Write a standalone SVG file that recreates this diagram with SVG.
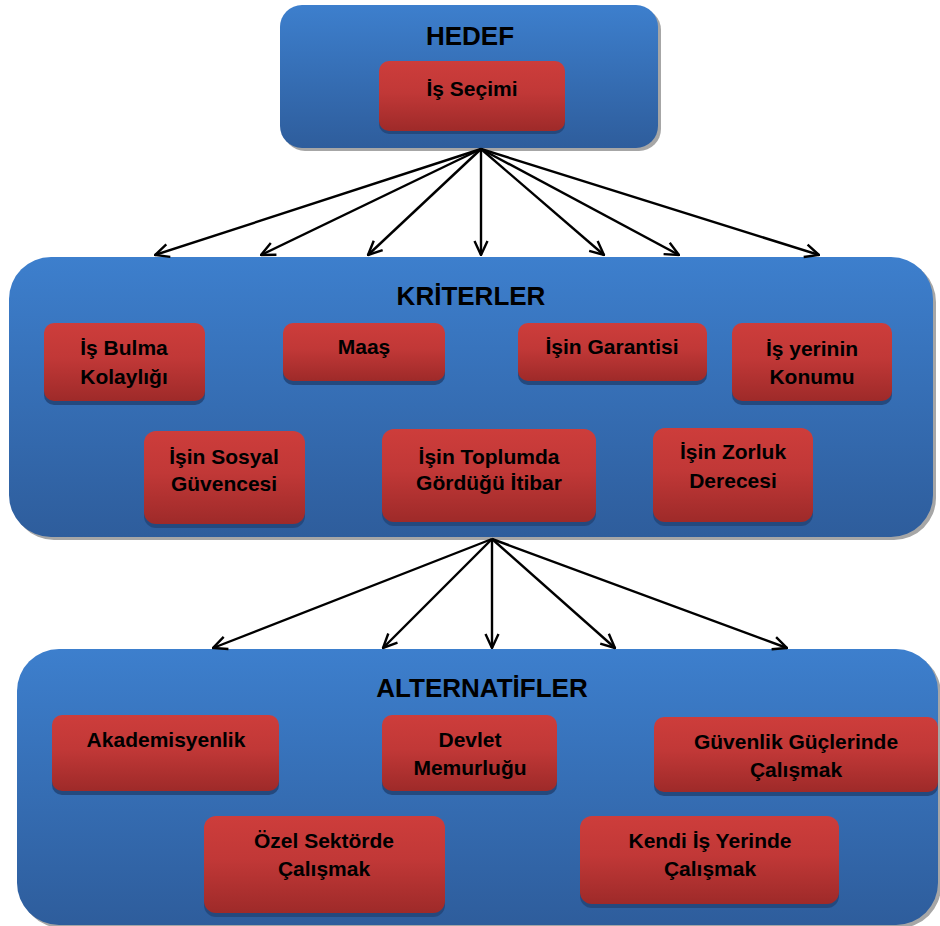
<svg xmlns="http://www.w3.org/2000/svg" width="940" height="926" viewBox="0 0 940 926">
<defs>
<linearGradient id="gBlue" x1="0" y1="0" x2="0" y2="1">
<stop offset="0" stop-color="#3D7FCD"/>
<stop offset="1" stop-color="#2E5D9C"/>
</linearGradient>
<linearGradient id="gRed" x1="0" y1="0" x2="0" y2="1">
<stop offset="0" stop-color="#CD3D3B"/>
<stop offset="0.45" stop-color="#C13837"/>
<stop offset="1" stop-color="#9E2A29"/>
</linearGradient>
<marker id="arr" viewBox="0 0 16 16" refX="15" refY="8" markerWidth="16" markerHeight="16" markerUnits="userSpaceOnUse" orient="auto">
<path d="M1,1.5 L15,8 L1,14.5" fill="none" stroke="#000" stroke-width="2.4"/>
</marker>
</defs>
<style>
.panel{fill:url(#gBlue)}
.pshadow{fill:#A6A6A6}
.card{fill:url(#gRed)}
.cshadow{fill:#24497E}
.title{font-family:"Liberation Sans",Arial,sans-serif;font-weight:bold;font-size:26px;fill:#000;text-anchor:middle}
.lbl{font-family:"Liberation Sans",Arial,sans-serif;font-weight:bold;font-size:21px;fill:#000;text-anchor:middle}
.con line{stroke:#000;stroke-width:2.4;marker-end:url(#arr)}
</style>

<g id="hedef">
<rect class="pshadow" x="283" y="8" width="378" height="143" rx="22"/>
<rect class="panel" x="280" y="5" width="378" height="143" rx="22"/>
<text class="title" x="470" y="45">HEDEF</text>
</g>
<g id="is-secimi">
<rect class="cshadow" x="379" y="64" width="186" height="70" rx="10"/>
<rect class="card" x="379" y="61" width="186" height="70" rx="10"/>
<text class="lbl" x="472" y="96">İş Seçimi</text>
</g>

<g id="kriterler">
<rect class="pshadow" x="12" y="260" width="924" height="280" rx="42"/>
<rect class="panel" x="9" y="257" width="924" height="280" rx="42"/>
<text class="title" x="471" y="305">KRİTERLER</text>
</g>
<g id="k-is-bulma">
<rect class="cshadow" x="44" y="327" width="161" height="78" rx="10"/>
<rect class="card" x="44" y="323" width="161" height="78" rx="10"/>
<text class="lbl" x="124" y="355">İş Bulma</text>
<text class="lbl" x="124" y="384">Kolaylığı</text>
</g>
<g id="k-maas">
<rect class="cshadow" x="283" y="327" width="162" height="58" rx="10"/>
<rect class="card" x="283" y="323" width="162" height="58" rx="10"/>
<text class="lbl" x="364" y="354">Maaş</text>
</g>
<g id="k-garanti">
<rect class="cshadow" x="518" y="327" width="189" height="58" rx="10"/>
<rect class="card" x="518" y="323" width="189" height="58" rx="10"/>
<text class="lbl" x="612" y="354">İşin Garantisi</text>
</g>
<g id="k-konum">
<rect class="cshadow" x="732" y="327" width="160" height="78" rx="10"/>
<rect class="card" x="732" y="323" width="160" height="78" rx="10"/>
<text class="lbl" x="812" y="356">İş yerinin</text>
<text class="lbl" x="812" y="384">Konumu</text>
</g>
<g id="k-sosyal">
<rect class="cshadow" x="144" y="435" width="161" height="93" rx="12"/>
<rect class="card" x="144" y="431" width="161" height="93" rx="12"/>
<text class="lbl" x="224" y="464">İşin Sosyal</text>
<text class="lbl" x="224" y="491">Güvencesi</text>
</g>
<g id="k-itibar">
<rect class="cshadow" x="382" y="433" width="214" height="93" rx="12"/>
<rect class="card" x="382" y="429" width="214" height="93" rx="12"/>
<text class="lbl" x="489" y="464">İşin Toplumda</text>
<text class="lbl" x="489" y="490">Gördüğü İtibar</text>
</g>
<g id="k-zorluk">
<rect class="cshadow" x="653" y="432" width="160" height="94" rx="12"/>
<rect class="card" x="653" y="428" width="160" height="94" rx="12"/>
<text class="lbl" x="733" y="459">İşin Zorluk</text>
<text class="lbl" x="733" y="488">Derecesi</text>
</g>

<g id="alternatifler">
<rect class="pshadow" x="20" y="652" width="921" height="276" rx="42"/>
<rect class="panel" x="17" y="649" width="921" height="276" rx="42"/>
<text class="title" x="482" y="697">ALTERNATİFLER</text>
</g>
<g id="a-akademi">
<rect class="cshadow" x="52" y="719" width="227" height="76" rx="10"/>
<rect class="card" x="52" y="715" width="227" height="76" rx="10"/>
<text class="lbl" x="166" y="747">Akademisyenlik</text>
</g>
<g id="a-devlet">
<rect class="cshadow" x="382" y="719" width="175" height="76" rx="10"/>
<rect class="card" x="382" y="715" width="175" height="76" rx="10"/>
<text class="lbl" x="470" y="747">Devlet</text>
<text class="lbl" x="470" y="775">Memurluğu</text>
</g>
<g id="a-guvenlik">
<rect class="cshadow" x="654" y="721" width="284" height="75" rx="10"/>
<rect class="card" x="654" y="717" width="284" height="75" rx="10"/>
<text class="lbl" x="796" y="749">Güvenlik Güçlerinde</text>
<text class="lbl" x="796" y="777">Çalışmak</text>
</g>
<g id="a-ozel">
<rect class="cshadow" x="204" y="820" width="241" height="97" rx="12"/>
<rect class="card" x="204" y="816" width="241" height="97" rx="12"/>
<text class="lbl" x="324" y="848">Özel Sektörde</text>
<text class="lbl" x="324" y="876">Çalışmak</text>
</g>
<g id="a-kendi">
<rect class="cshadow" x="580" y="820" width="259" height="88" rx="12"/>
<rect class="card" x="580" y="816" width="259" height="88" rx="12"/>
<text class="lbl" x="710" y="848">Kendi İş Yerinde</text>
<text class="lbl" x="710" y="876">Çalışmak</text>
</g>

<g id="connectors" class="con">
<line x1="481" y1="149" x2="155" y2="255"/>
<line x1="481" y1="149" x2="261" y2="255"/>
<line x1="481" y1="149" x2="368" y2="255"/>
<line x1="481" y1="149" x2="481" y2="255"/>
<line x1="481" y1="149" x2="604" y2="255"/>
<line x1="481" y1="149" x2="679" y2="255"/>
<line x1="481" y1="149" x2="819" y2="255"/>
<line x1="492" y1="539" x2="213" y2="648"/>
<line x1="492" y1="539" x2="383" y2="648"/>
<line x1="492" y1="539" x2="492" y2="648"/>
<line x1="492" y1="539" x2="615" y2="648"/>
<line x1="492" y1="539" x2="787" y2="648"/>
</g>
</svg>
